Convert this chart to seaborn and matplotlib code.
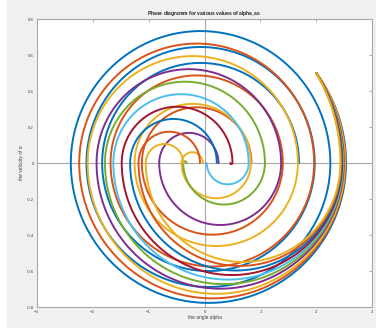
import numpy as np
import pandas as pd
import matplotlib
matplotlib.use("Agg")
import matplotlib.pyplot as plt
from matplotlib.patches import Rectangle
import seaborn as sns

# start state shared by all runs, and the velocity/angle ratio of the arcs
START_ALPHA = 2.0
START_VELOCITY = 0.5
OMEGA = 0.316

# alpha values where each trajectory turns (velocity = 0);
# the last entry is where the run ends
turns_1 = [2.53, -2.39, 2.25, -2.11, 1.97, -1.83, 1.69]
turns_2 = [2.52, -2.24, 1.96, -1.68, 1.40, -1.12, 0.84]
turns_3 = [2.51, -2.09, 1.67, -1.25, 0.83, -0.41, -0.03]
turns_4 = [2.49, -1.93, 1.37, -0.81, 0.25]
turns_5 = [2.48, -1.78, 1.08, -0.38, -0.32]
turns_6 = [2.47, -1.63, 0.79, 0.04]
turns_7 = [2.46, -1.48, 0.50, 0.46]
turns_8 = [2.45, -1.33, 0.22]
turns_9 = [2.44, -1.18, -0.08]
turns_10 = [2.43, -1.05, -0.38]

curve_turns = [turns_1, turns_2, turns_3, turns_4, turns_5,
               turns_6, turns_7, turns_8, turns_9, turns_10]

matlab_colors = ['#0072BD', '#D95319', '#EDB120', '#7E2F8E',
                 '#77AC30', '#4DBEEE', '#A2142F']


def arc(center, radius, t0, t1, n=120):
    t = np.linspace(t0, t1, n)
    return center + radius * np.cos(t), OMEGA * radius * np.sin(t)


def trajectory(turns):
    # first piece: from the start point up to the first turning point
    c0 = -(turns[0] + turns[1]) / 2
    r0 = turns[0] - c0
    t0 = np.arccos(np.clip((START_ALPHA - c0) / r0, -1, 1))
    xs, vs = arc(c0, r0, t0, 0)
    xs, vs = [xs], [vs]
    for a, b in zip(turns[:-1], turns[1:]):
        c, r = (a + b) / 2, abs(a - b) / 2
        if b < a:
            x, v = arc(c, r, 0, -np.pi)
        else:
            x, v = arc(c, r, np.pi, 0)
        xs.append(x)
        vs.append(v)
    return np.concatenate(xs), np.concatenate(vs)


frames = []
for i, turns in enumerate(curve_turns):
    x, v = trajectory(turns)
    frames.append(pd.DataFrame({'curve': i, 'alpha': x, 'velocity': v}))
df = pd.concat(frames, ignore_index=True)

palette = {i: matlab_colors[i % len(matlab_colors)] for i in range(len(curve_turns))}

sns.set_style("white")
plt.rcParams['font.family'] = ['Liberation Sans', 'DejaVu Sans']

fig = plt.figure(figsize=(3.76, 3.28), dpi=100, facecolor='white')
fig.patches.append(Rectangle((0.0186, 0.003), 1, 1, transform=fig.transFigure,
                             color='#f0f0f0', zorder=-10))
ax = fig.add_axes([0.0976, 0.064, 0.8926, 0.878])
ax.set_facecolor('white')

ax.axhline(0, color='#a8a8a8', lw=0.8, zorder=0)
ax.axvline(0, color='#a8a8a8', lw=0.8, zorder=0)

sns.lineplot(data=df, x='alpha', y='velocity', hue='curve', palette=palette,
             sort=False, estimator=None, legend=False, lw=1.4, ax=ax)

ax.set_xlim(-3, 3)
ax.set_ylim(-0.8, 0.8)
ax.set_xticks(np.arange(-3, 4, 1))
ax.set_yticks(np.round(np.arange(-0.8, 0.81, 0.2), 1))
ax.set_yticklabels(['-0.8', '-0.6', '-0.4', '-0.2', '0', '0.2', '0.4', '0.6', '0.8'])
ax.tick_params(direction='in', length=2, width=0.6, labelsize=3.1,
               colors='#a0a0a0', labelcolor='#404040', top=True, right=True, pad=2)
for s in ax.spines.values():
    s.set_color('#a8a8a8')
    s.set_linewidth(0.8)

ax.set_title(r'Phase diagramm for various values of alpha$_{\_}$as',
             fontsize=3.6, fontweight='bold', color='#202020', pad=3)
ax.set_xlabel('the angle alpha', fontsize=3.5, color='#404040', labelpad=1)
ax.set_ylabel('the velocity of α', fontsize=3.5, color='#404040', labelpad=2)

fig.savefig('out.png', dpi=100)
